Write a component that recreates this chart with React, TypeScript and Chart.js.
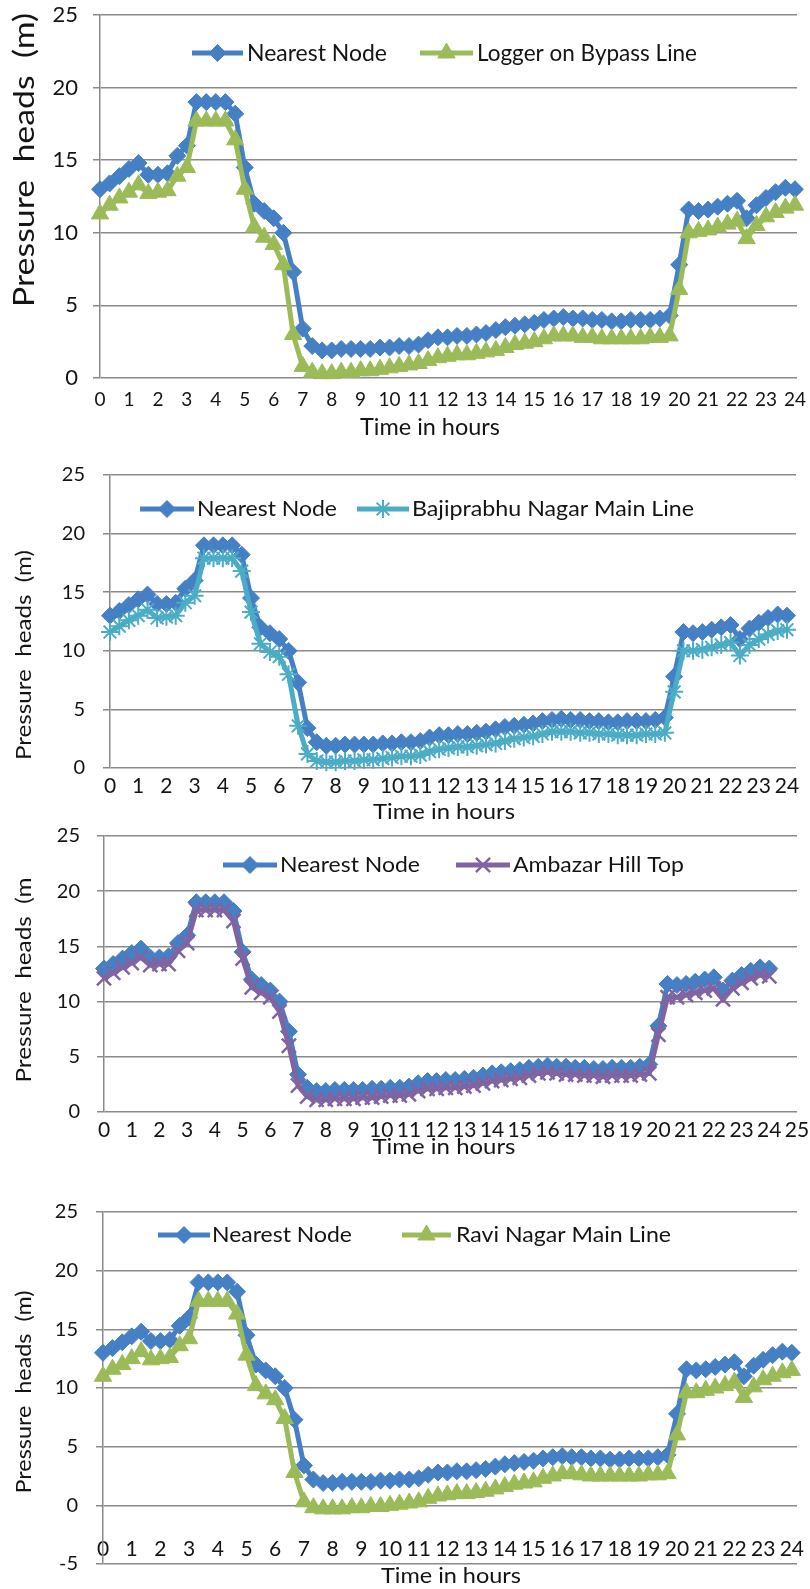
import React, { useEffect, useRef } from "react";
import { Chart, registerables } from "chart.js";

Chart.register(...registerables);

// ---------- DATA ----------
const HOURS = [
  0, 0.33, 0.67, 1, 1.33, 1.67, 2, 2.33, 2.67, 3,
  3.33, 3.67, 4, 4.33, 4.67, 5, 5.33, 5.67, 6, 6.33,
  6.67, 7, 7.33, 7.67, 8, 8.33, 8.67, 9, 9.33, 9.67,
  10, 10.33, 10.67, 11, 11.33, 11.67, 12, 12.33, 12.67, 13,
  13.33, 13.67, 14, 14.33, 14.67, 15, 15.33, 15.67, 16, 16.33,
  16.67, 17, 17.33, 17.67, 18, 18.33, 18.67, 19, 19.33, 19.67,
  20, 20.33, 20.67, 21, 21.33, 21.67, 22, 22.33, 22.67, 23,
  23.33, 23.67, 24,
];

const NEAREST_NODE = [
  13.0, 13.4, 13.9, 14.4, 14.8, 14.0, 14.0, 14.1, 15.3, 16.0,
  19.0, 19.0, 19.0, 19.0, 18.2, 14.5, 12.0, 11.5, 11.0, 10.0,
  7.3, 3.4, 2.2, 1.9, 1.9, 2.0, 2.0, 2.0, 2.0, 2.1,
  2.1, 2.2, 2.2, 2.3, 2.6, 2.8, 2.8, 2.9, 2.9, 3.0,
  3.1, 3.3, 3.5, 3.6, 3.7, 3.8, 4.0, 4.1, 4.2, 4.1,
  4.1, 4.0, 4.0, 3.9, 3.9, 4.0, 4.0, 4.0, 4.1, 4.3,
  7.8, 11.6, 11.5, 11.6, 11.8, 12.0, 12.2, 11.0, 11.9, 12.4,
  12.8, 13.1, 13.0,
];

const LOGGER_BYPASS = [
  11.3, 11.9, 12.4, 12.8, 13.3, 12.7, 12.8, 12.9, 13.9, 14.5,
  17.7, 17.7, 17.7, 17.7, 16.4, 13.0, 10.4, 9.7, 9.2, 7.8,
  3.0, 0.8, 0.4, 0.3, 0.3, 0.4, 0.4, 0.5, 0.5, 0.6,
  0.7, 0.8, 0.9, 1.0, 1.2, 1.4, 1.5, 1.6, 1.6, 1.7,
  1.8, 1.9, 2.1, 2.3, 2.4, 2.5, 2.7, 2.9, 2.9, 2.9,
  2.8, 2.8, 2.7, 2.7, 2.7, 2.7, 2.7, 2.8, 2.8, 2.9,
  6.1, 10.0, 10.1, 10.2, 10.4, 10.6, 10.8, 9.6, 10.5, 11.1,
  11.4, 11.7, 11.9,
];

const BAJIPRABHU = [
  11.6, 12.1, 12.6, 13.0, 13.5, 12.8, 12.9, 13.0, 14.1, 14.7,
  17.9, 17.9, 17.9, 17.9, 16.8, 13.3, 10.6, 9.9, 9.5, 8.0,
  3.6, 1.2, 0.6, 0.5, 0.5, 0.6, 0.6, 0.7, 0.7, 0.8,
  0.9, 1.0, 1.0, 1.1, 1.4, 1.6, 1.7, 1.8, 1.8, 1.9,
  2.0, 2.1, 2.3, 2.5, 2.6, 2.7, 2.9, 3.1, 3.1, 3.1,
  3.0, 3.0, 2.9, 2.9, 2.8, 2.8, 2.8, 2.9, 2.9, 3.0,
  6.5, 10.0, 10.0, 10.1, 10.3, 10.5, 10.7, 9.6, 10.5, 11.0,
  11.4, 11.7, 11.8,
];

const AMBAZAR = [
  12.1, 12.6, 13.1, 13.5, 14.0, 13.3, 13.4, 13.4, 14.6, 15.3,
  18.3, 18.3, 18.3, 18.3, 17.3, 13.9, 11.3, 10.8, 10.4, 9.1,
  6.0, 2.4, 1.4, 1.1, 1.1, 1.2, 1.2, 1.2, 1.3, 1.3,
  1.4, 1.5, 1.5, 1.6, 1.9, 2.1, 2.1, 2.2, 2.2, 2.3,
  2.4, 2.6, 2.8, 2.9, 3.0, 3.1, 3.3, 3.5, 3.6, 3.5,
  3.4, 3.4, 3.3, 3.3, 3.2, 3.3, 3.3, 3.3, 3.4, 3.5,
  7.0, 10.4, 10.4, 10.6, 10.8, 11.0, 11.2, 10.2, 11.2, 11.7,
  12.1, 12.4, 12.3,
];

const RAVI_NAGAR = [
  11.0, 11.6, 12.0, 12.5, 13.1, 12.4, 12.5, 12.6, 13.6, 14.2,
  17.4, 17.4, 17.4, 17.4, 16.3, 12.8, 10.2, 9.5, 9.0, 7.4,
  2.8, 0.3, -0.2, -0.3, -0.3, -0.3, -0.2, -0.2, -0.1, -0.1,
  0.0, 0.1, 0.2, 0.3, 0.6, 0.8, 0.9, 1.0, 1.0, 1.1,
  1.2, 1.4, 1.6, 1.8, 1.9, 2.0, 2.3, 2.5, 2.7, 2.7,
  2.6, 2.5, 2.5, 2.5, 2.5, 2.5, 2.5, 2.6, 2.6, 2.7,
  6.0, 9.6, 9.6, 9.8, 10.0, 10.2, 10.5, 9.2, 10.1, 10.7,
  11.0, 11.3, 11.5,
];

const SERIES_LABELS = [
  "Nearest Node",
  "Logger on Bypass Line",
  "Bajiprabhu Nagar Main Line",
  "Ambazar Hill Top",
  "Ravi Nagar Main Line",
];

const Y_TITLE = "Pressure  heads  (m)";
const Y_TITLE_CUT = "Pressure  heads  (m";
const X_TITLE = "Time in hours";

// ---------- STYLE ----------
const FONT = 'Lato, "Open Sans", sans-serif';
const TEXT = "#141414";
const GRID = "#8a8a8a";
const BLUE = "#4580c4";
const GREEN = "#9bbb59";
const CYAN = "#4bacc6";
const PURPLE = "#8064a2";

type Style = { color: string; point: string; radius: number; pbw: number };
const S_NEAR: Style = { color: BLUE, point: "rectRot", radius: 8.5, pbw: 1 };
const S_GREEN: Style = { color: GREEN, point: "triangle", radius: 10, pbw: 1 };
const S_CYAN: Style = { color: CYAN, point: "star", radius: 9, pbw: 2 };
const S_PURPLE: Style = { color: PURPLE, point: "crossRot", radius: 10, pbw: 2.5 };

function drawMarker(ctx: CanvasRenderingContext2D, st: Style, x: number, y: number) {
  const r = st.radius;
  ctx.save();
  ctx.fillStyle = st.color;
  ctx.strokeStyle = st.color;
  ctx.lineWidth = st.pbw;
  ctx.beginPath();
  if (st.point === "rectRot") {
    ctx.moveTo(x, y - r);
    ctx.lineTo(x + r, y);
    ctx.lineTo(x, y + r);
    ctx.lineTo(x - r, y);
    ctx.closePath();
    ctx.fill();
    ctx.stroke();
  } else if (st.point === "triangle") {
    ctx.moveTo(x, y - r);
    ctx.lineTo(x + r * 0.866, y + r / 2);
    ctx.lineTo(x - r * 0.866, y + r / 2);
    ctx.closePath();
    ctx.fill();
    ctx.stroke();
  } else {
    const d = r * Math.SQRT1_2;
    ctx.moveTo(x - d, y - d);
    ctx.lineTo(x + d, y + d);
    ctx.moveTo(x + d, y - d);
    ctx.lineTo(x - d, y + d);
    if (st.point === "star") {
      ctx.moveTo(x, y - r);
      ctx.lineTo(x, y + r);
      ctx.moveTo(x - r, y);
      ctx.lineTo(x + r, y);
    }
    ctx.stroke();
  }
  ctx.restore();
}

function drawFitted(
  ctx: CanvasRenderingContext2D,
  text: string,
  x: number,
  y: number,
  width: number,
  size: number,
  align: CanvasTextAlign,
  rot: number
) {
  ctx.save();
  ctx.font = `${size}px ${FONT}`;
  ctx.fillStyle = TEXT;
  ctx.textBaseline = "middle";
  ctx.textAlign = align;
  const w = ctx.measureText(text).width;
  ctx.translate(x, y);
  if (rot) ctx.rotate(rot);
  ctx.scale(width / w, 1);
  ctx.fillText(text, 0, 0);
  ctx.restore();
}

type LegendItem = { x1: number; x2: number; tx: number; tw: number };

type Panel = {
  top: number;
  height: number;
  area: { left: number; top: number; right: number; bottom: number };
  xMax: number;
  yMin: number;
  yMax: number;
  xOnZero: boolean;
  xTickSize: number;
  xTickPad: number;
  yTickSize: number;
  yTickPad: number;
  second: { values: number[]; label: string; style: Style };
  legendY: number;
  legendFont: number;
  legend: LegendItem[];
  yTitle: { text: string; x: number; y: number; len: number; size: number };
  xTitle: { x: number; y: number; w: number; size: number };
};

const PANELS: Panel[] = [
  {
    top: 0,
    height: 440,
    area: { left: 100, top: 15, right: 797, bottom: 378 },
    xMax: 24.07,
    yMin: 0,
    yMax: 25,
    xOnZero: false,
    xTickSize: 19,
    xTickPad: 10,
    yTickSize: 22,
    yTickPad: 15,
    second: { values: LOGGER_BYPASS, label: SERIES_LABELS[1], style: S_GREEN },
    legendY: 53,
    legendFont: 24,
    legend: [
      { x1: 192, x2: 243, tx: 247, tw: 140 },
      { x1: 420, x2: 473, tx: 477, tw: 220 },
    ],
    yTitle: { text: Y_TITLE, x: 25, y: 160, len: 294, size: 28 },
    xTitle: { x: 430, y: 427, w: 140, size: 24 },
  },
  {
    top: 440,
    height: 390,
    area: { left: 110, top: 35, right: 796, bottom: 328 },
    xMax: 24.32,
    yMin: 0,
    yMax: 25,
    xOnZero: false,
    xTickSize: 21,
    xTickPad: 6,
    yTickSize: 20,
    yTickPad: 18,
    second: { values: BAJIPRABHU, label: SERIES_LABELS[2], style: S_CYAN },
    legendY: 69,
    legendFont: 22,
    legend: [
      { x1: 140, x2: 194, tx: 197, tw: 140 },
      { x1: 357, x2: 409, tx: 412, tw: 282 },
    ],
    yTitle: { text: Y_TITLE, x: 24, y: 215, len: 210, size: 22 },
    xTitle: { x: 444, y: 372, w: 142, size: 22 },
  },
  {
    top: 810,
    height: 350,
    area: { left: 104, top: 26, right: 797, bottom: 302 },
    xMax: 25,
    yMin: 0,
    yMax: 25,
    xOnZero: false,
    xTickSize: 21,
    xTickPad: 6,
    yTickSize: 20,
    yTickPad: 17,
    second: { values: AMBAZAR, label: SERIES_LABELS[3], style: S_PURPLE },
    legendY: 55,
    legendFont: 22,
    legend: [
      { x1: 223, x2: 277, tx: 280, tw: 140 },
      { x1: 456, x2: 510, tx: 513, tw: 171 },
    ],
    yTitle: { text: Y_TITLE_CUT, x: 24, y: 170, len: 205, size: 22 },
    xTitle: { x: 444, y: 337, w: 143, size: 22 },
  },
  {
    top: 1160,
    height: 429,
    area: { left: 103, top: 52, right: 797, bottom: 404 },
    xMax: 24.18,
    yMin: -5,
    yMax: 25,
    xOnZero: true,
    xTickSize: 21,
    xTickPad: 31,
    yTickSize: 20,
    yTickPad: 18,
    second: { values: RAVI_NAGAR, label: SERIES_LABELS[4], style: S_GREEN },
    legendY: 75,
    legendFont: 22,
    legend: [
      { x1: 158, x2: 210, tx: 212, tw: 140 },
      { x1: 402, x2: 451, tx: 456, tw: 215 },
    ],
    yTitle: { text: Y_TITLE, x: 24, y: 232, len: 203, size: 22 },
    xTitle: { x: 451, y: 416, w: 140, size: 22 },
  },
];

function makeDataset(label: string, values: number[], st: Style, order: number) {
  return {
    label,
    data: HOURS.map((h, i) => ({ x: h, y: values[i] })),
    borderColor: st.color,
    backgroundColor: st.color,
    borderWidth: 5,
    pointStyle: st.point,
    pointRadius: st.radius,
    pointHoverRadius: st.radius,
    pointBackgroundColor: st.color,
    pointBorderColor: st.color,
    pointBorderWidth: st.pbw,
    tension: 0,
    order,
    clip: false as const,
  };
}

function PanelChart({ p }: { p: Panel }) {
  const ref = useRef<HTMLCanvasElement | null>(null);
  useEffect(() => {
    if (!ref.current) return;
    const styles = [S_NEAR, p.second.style];
    const labels = [SERIES_LABELS[0], p.second.label];
    const textPlugin = {
      id: "panelText",
      afterDraw(chart: any) {
        const ctx: CanvasRenderingContext2D = chart.ctx;
        p.legend.forEach((it, i) => {
          const st = styles[i];
          ctx.save();
          ctx.strokeStyle = st.color;
          ctx.lineWidth = 5;
          ctx.beginPath();
          ctx.moveTo(it.x1, p.legendY);
          ctx.lineTo(it.x2, p.legendY);
          ctx.stroke();
          ctx.restore();
          drawMarker(ctx, st, (it.x1 + it.x2) / 2, p.legendY);
          drawFitted(ctx, labels[i], it.tx, p.legendY, it.tw, p.legendFont, "left", 0);
        });
        drawFitted(ctx, p.yTitle.text, p.yTitle.x, p.yTitle.y, p.yTitle.len, p.yTitle.size, "center", -Math.PI / 2);
        drawFitted(ctx, X_TITLE, p.xTitle.x, p.xTitle.y, p.xTitle.w, p.xTitle.size, "center", 0);
      },
    };

    const chart = new Chart(ref.current, {
      type: "line",
      data: {
        datasets: [
          makeDataset(SERIES_LABELS[0], NEAREST_NODE, S_NEAR, 1),
          makeDataset(p.second.label, p.second.values, p.second.style, 0),
        ] as any,
      },
      options: {
        responsive: false,
        animation: false,
        devicePixelRatio: 1,
        layout: {
          padding: {
            top: p.area.top,
            right: 810 - p.area.right,
            left: 0,
            bottom: p.xOnZero ? p.height - p.area.bottom : 0,
          },
        },
        plugins: {
          legend: { display: false },
          tooltip: { enabled: false },
          title: { display: false },
        },
        scales: {
          x: {
            type: "linear",
            min: 0,
            max: p.xMax,
            position: (p.xOnZero ? { y: 0 } : "bottom") as any,
            grid: { display: false, drawTicks: false },
            border: { display: false },
            ticks: {
              stepSize: 1,
              autoSkip: false,
              maxRotation: 0,
              minRotation: 0,
              includeBounds: false,
              padding: p.xTickPad,
              color: TEXT,
              font: { family: FONT, size: p.xTickSize },
            },
            afterFit: (s: any) => {
              s.paddingLeft = 0;
              s.paddingRight = 0;
              s.paddingTop = 0;
              s.paddingBottom = 0;
              if (!p.xOnZero) s.height = p.height - p.area.bottom;
            },
          },
          y: {
            type: "linear",
            min: p.yMin,
            max: p.yMax,
            grid: {
              color: GRID,
              lineWidth: 1.5,
              drawTicks: true,
              tickLength: 7,
              tickColor: GRID,
            },
            border: { display: true, color: GRID, width: 1.5 },
            ticks: {
              stepSize: 5,
              padding: p.yTickPad,
              color: TEXT,
              font: { family: FONT, size: p.yTickSize },
            },
            afterFit: (s: any) => {
              s.width = p.area.left;
              s.paddingTop = 0;
              s.paddingBottom = 0;
              s.paddingLeft = 0;
              s.paddingRight = 0;
            },
          },
        },
      } as any,
      plugins: [textPlugin],
    });
    return () => chart.destroy();
  }, [p]);

  return (
    <canvas
      ref={ref}
      width={810}
      height={p.height}
      style={{ position: "absolute", left: 0, top: p.top, width: 810, height: p.height }}
    />
  );
}

export default function App() {
  return (
    <div
      style={{
        position: "absolute",
        left: 0,
        top: 0,
        width: 810,
        height: 1589,
        background: "#ffffff",
        overflow: "hidden",
      }}
    >
      {PANELS.map((p, i) => (
        <PanelChart key={i} p={p} />
      ))}
    </div>
  );
}
